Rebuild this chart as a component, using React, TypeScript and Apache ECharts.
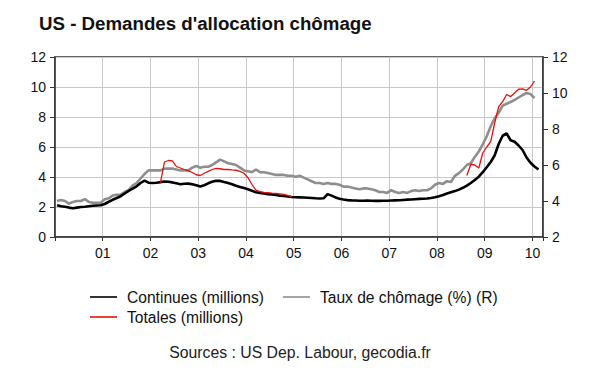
import React, { useEffect, useRef } from "react";
import * as echarts from "echarts";

// Monthly values, first month = January 2000 (index 0)
const continues: number[] = [
  // 2000
  2.12, 2.05, 2.02, 1.96, 1.92, 1.96, 2.0, 2.02, 2.05, 2.08, 2.1, 2.12,
  // 2001
  2.2, 2.35, 2.48, 2.6, 2.72, 2.9, 3.08, 3.22, 3.38, 3.6, 3.76, 3.62,
  // 2002
  3.6, 3.62, 3.66, 3.7, 3.68, 3.64, 3.58, 3.52, 3.55, 3.56, 3.52, 3.45,
  // 2003
  3.36, 3.45, 3.58, 3.68, 3.75, 3.74, 3.66, 3.6, 3.52, 3.42, 3.34, 3.26,
  // 2004
  3.18, 3.08, 2.98, 2.94, 2.9, 2.86, 2.84, 2.8, 2.76, 2.73, 2.7, 2.67,
  // 2005
  2.65, 2.64, 2.63, 2.62, 2.6, 2.58, 2.57, 2.58, 2.86, 2.76, 2.64, 2.55,
  // 2006
  2.5, 2.46, 2.44, 2.43, 2.42, 2.42, 2.43, 2.42, 2.41, 2.41, 2.42, 2.42,
  // 2007
  2.43, 2.44, 2.45, 2.47, 2.49, 2.5, 2.52, 2.54, 2.55, 2.57, 2.6, 2.65,
  // 2008
  2.72, 2.8, 2.9, 2.98, 3.06, 3.16, 3.28, 3.42, 3.6, 3.8, 4.02, 4.32,
  // 2009
  4.65, 5.0, 5.45, 6.2, 6.75, 6.9, 6.45, 6.35, 6.1, 5.8, 5.3, 4.95,
  // 2010
  4.7, 4.5,
];

const tauxChomage: number[] = [
  // 2000
  4.0, 4.05, 4.0, 3.85, 3.95, 4.0, 4.0, 4.1, 3.95, 3.9, 3.9, 3.9,
  // 2001
  4.1, 4.15, 4.3, 4.35, 4.35, 4.5, 4.6, 4.85, 5.0, 5.25, 5.5, 5.7,
  // 2002
  5.7, 5.7, 5.7, 5.8, 5.8, 5.8, 5.75, 5.7, 5.7, 5.7, 5.85, 5.95,
  // 2003
  5.85, 5.9, 5.9, 6.0, 6.15, 6.3, 6.2, 6.1, 6.05, 6.0, 5.85, 5.7,
  // 2004
  5.65, 5.6, 5.75, 5.6, 5.6, 5.55, 5.5, 5.45, 5.45, 5.45, 5.4, 5.4,
  // 2005
  5.35, 5.4, 5.3, 5.2, 5.1, 5.0, 5.0, 4.95, 5.0, 4.95, 4.95, 4.9,
  // 2006
  4.8, 4.8, 4.75, 4.7, 4.65, 4.7, 4.7, 4.65, 4.6, 4.5, 4.5, 4.45,
  // 2007
  4.6, 4.5, 4.45, 4.5, 4.45, 4.55, 4.6, 4.55, 4.6, 4.6, 4.7, 4.9,
  // 2008
  5.0, 4.95, 5.1, 5.05, 5.4, 5.55, 5.75, 6.0, 6.1, 6.45, 6.75, 7.15,
  // 2009
  7.6, 8.15, 8.6, 8.9, 9.3, 9.4, 9.5, 9.62, 9.75, 9.88, 10.0, 9.94,
  // 2010
  9.72,
];

// Totales: two segments
const totalesStart1 = 26; // March 2002
const totales1: number[] = [
  3.62, 5.0, 5.1, 5.08, 4.7, 4.6, 4.5, 4.42, 4.3, 4.15,
  4.1, 4.25, 4.38, 4.5, 4.58, 4.55, 4.5, 4.5, 4.47, 4.45, 4.38, 4.25,
  3.95, 3.5, 3.12, 3.02, 2.98, 2.95, 2.92, 2.9, 2.87, 2.84, 2.78, 2.68,
];
const totalesStart2 = 103; // August 2008
const totales2: number[] = [
  4.1, 4.85, 4.8, 4.6, 5.6,
  6.0, 6.36, 7.6, 8.69, 9.02, 9.5, 9.36, 9.6, 9.85, 9.88, 9.78, 10.0,
  10.4,
];

const yearLabels = ["01", "02", "03", "04", "05", "06", "07", "08", "09", "10"];

const FONT = '"Liberation Sans", Arial, Helvetica, sans-serif';

const toPairs = (start: number, values: number[]) =>
  values.map((v, i) => [2000 + (start + i + 0.5) / 12, v]);

export default function App() {
  const ref = useRef<HTMLDivElement>(null);

  useEffect(() => {
    if (!ref.current) return;
    const chart = echarts.init(ref.current, undefined, { renderer: "svg" });

    const axisColor = "#333";
    const gridColor = "#c8c8c8";

    const legendBase = {
      icon: "rect",
      itemWidth: 27,
      itemHeight: 1.6,
      padding: 0,
      lineStyle: { width: 0 },
      itemStyle: { borderWidth: 0 },
      textStyle: { fontFamily: FONT, fontSize: 15.6, color: "#111", padding: [0, 0, 0, 5] },
    };

    chart.setOption({
      animation: false,
      backgroundColor: "#fff",
      textStyle: { fontFamily: FONT },
      title: {
        text: "US - Demandes d'allocation chômage",
        left: 34,
        top: 9,
        textStyle: { fontFamily: FONT, fontSize: 18.7, fontWeight: "bold", color: "#111" },
      },
      legend: [
        {
          ...legendBase,
          data: ["Continues (millions)", "Taux de chômage (%) (R)"],
          left: 90,
          top: 289,
          itemGap: 19,
        },
        {
          ...legendBase,
          data: ["Totales (millions)"],
          left: 90,
          top: 309,
        },
      ],
      grid: {
        left: 55,
        right: 57,
        top: 57,
        bottom: 135,
        show: true,
        borderColor: axisColor,
        borderWidth: 1.5,
        containLabel: false,
      },
      xAxis: {
        type: "value",
        min: 2000,
        max: 2010.22,
        interval: 1,
        axisLine: { show: true, onZero: false, lineStyle: { color: axisColor, width: 1.5 } },
        axisTick: { show: true, inside: false, length: 4, lineStyle: { color: axisColor } },
        axisLabel: {
          fontFamily: FONT,
          fontSize: 14,
          color: "#111",
          margin: 9,
          formatter: (v: number) => {
            const r = Math.round(v);
            if (Math.abs(v - r) > 1e-6) return "";
            const idx = r - 2001;
            return idx >= 0 && idx < yearLabels.length ? yearLabels[idx] : "";
          },
        },
        splitLine: { show: true, lineStyle: { color: gridColor, width: 1 } },
      },
      yAxis: [
        {
          type: "value",
          position: "left",
          min: 0,
          max: 12,
          interval: 2,
          axisLine: { show: true, onZero: false, lineStyle: { color: axisColor, width: 1.5 } },
          axisTick: { show: true, inside: false, length: 5, lineStyle: { color: axisColor } },
          axisLabel: { fontFamily: FONT, fontSize: 14, color: "#111", margin: 9 },
          splitLine: { show: true, lineStyle: { color: gridColor, width: 1 } },
        },
        {
          type: "value",
          position: "right",
          min: 2,
          max: 12,
          interval: 2,
          axisLine: { show: true, onZero: false, lineStyle: { color: axisColor, width: 1.5 } },
          axisTick: { show: true, inside: false, length: 5, lineStyle: { color: axisColor } },
          axisLabel: { fontFamily: FONT, fontSize: 14, color: "#111", margin: 9 },
          splitLine: { show: false },
        },
      ],
      series: [
        {
          name: "Taux de chômage (%) (R)",
          type: "line",
          yAxisIndex: 1,
          data: toPairs(0, tauxChomage),
          symbol: "none",
          showSymbol: false,
          color: "#8e8e8e",
          lineStyle: { color: "#8e8e8e", width: 2.6 },
          z: 2,
        },
        {
          name: "Continues (millions)",
          type: "line",
          yAxisIndex: 0,
          data: toPairs(0, continues),
          symbol: "none",
          showSymbol: false,
          color: "#000000",
          lineStyle: { color: "#000000", width: 2.6 },
          z: 3,
        },
        {
          name: "Totales (millions)",
          type: "line",
          yAxisIndex: 0,
          data: toPairs(totalesStart1, totales1),
          symbol: "none",
          showSymbol: false,
          color: "#e3120b",
          lineStyle: { color: "#e3120b", width: 1.3 },
          z: 4,
        },
        {
          name: "Totales (millions)",
          type: "line",
          yAxisIndex: 0,
          data: toPairs(totalesStart2, totales2),
          symbol: "none",
          showSymbol: false,
          color: "#e3120b",
          lineStyle: { color: "#e3120b", width: 1.3 },
          z: 4,
        },
      ],
      graphic: [
        {
          type: "text",
          left: "center",
          top: 344,
          style: {
            text: "Sources : US Dep. Labour, gecodia.fr",
            fontFamily: FONT,
            fontSize: 15.8,
            fill: "#222",
          },
        },
      ],
    });

    return () => chart.dispose();
  }, []);

  return (
    <div
      ref={ref}
      style={{ position: "absolute", left: 0, top: 0, width: 600, height: 372 }}
    />
  );
}
